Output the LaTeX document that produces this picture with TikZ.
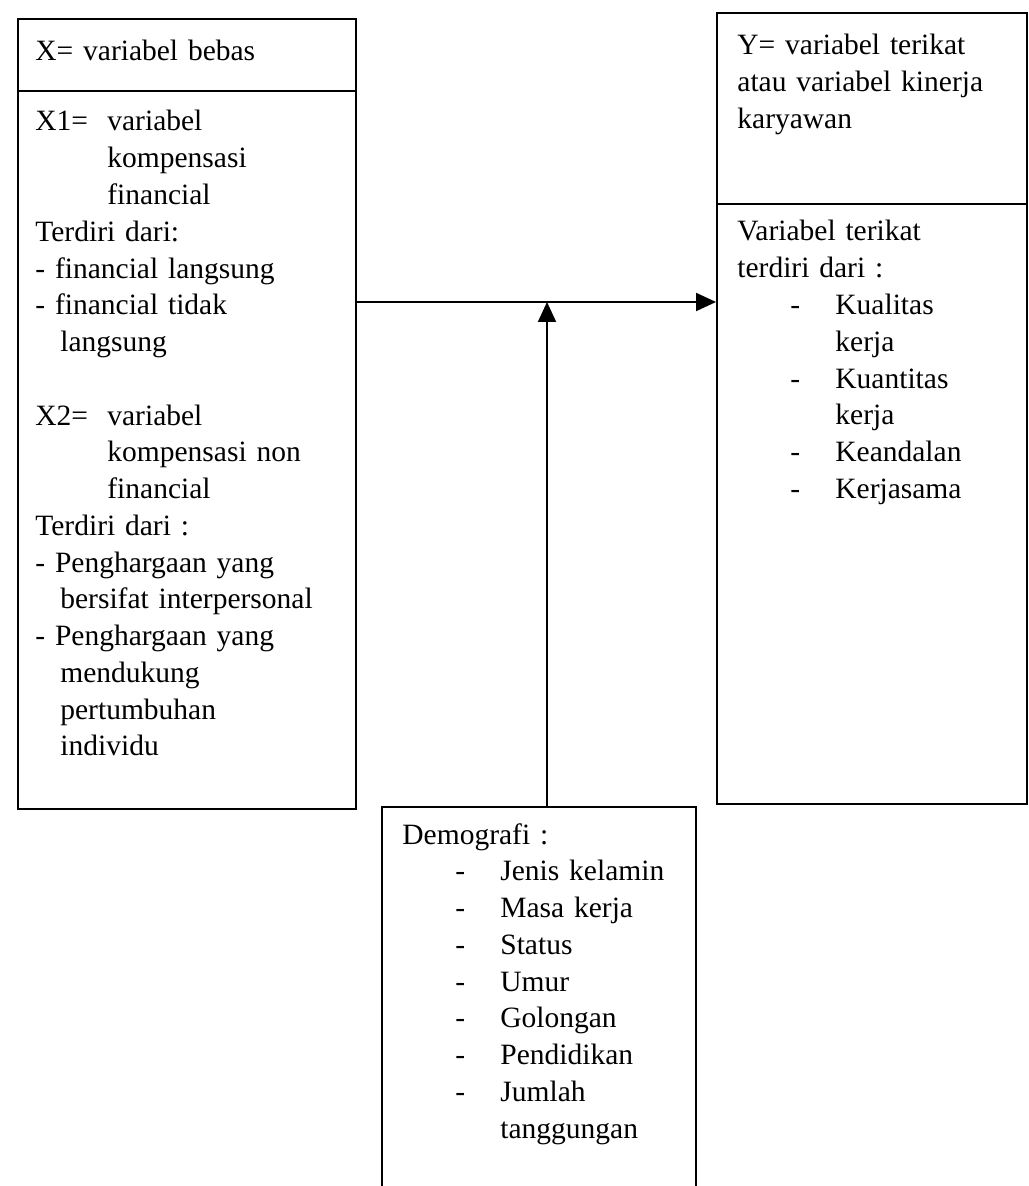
\documentclass[tikz,border=0pt]{standalone}
\usepackage{fontspec}
\setmainfont{Liberation Serif}
\usetikzlibrary{arrows.meta,positioning}
\newcommand{\dashrow}[1]{\hspace*{26.5pt}\makebox[22.5pt][l]{-}#1}

\begin{document}
\begin{tikzpicture}[x=0.5pt,y=-0.5pt]
  \tikzset{box/.style = {shape=rectangle,draw,line width=1.1pt,anchor=north west,inner sep=0pt}}
  \tikzset{txt/.style = {anchor=base west,align=left,inner sep=0pt,text width=165pt,font=\fontsize{14.75}{18.38}\selectfont}}
  \tikzset{%
  tipA/.tip={Triangle[length=10pt,width=9pt]},
}
  \tikzset{edge/.style = {-tipA,line width=1pt}}

	\clip (0,0) rectangle (1028,1186);

	\node[box,minimum width=169pt,minimum height=36pt] (XH) at (17,18) {};
	\node[box,minimum width=169pt,minimum height=359pt] (XB) at (17,90) {};
	
	\node[box,minimum width=155pt,minimum height=95.5pt] (YH) at (716,12) {};
	\node[box,minimum width=155pt,minimum height=300pt] (YB) at (716,203) {};
	
	\node[box,minimum width=157pt,minimum height=250pt] (DM) at (381,806) {};

	\node[txt] (XHt) at (35,61) {X= variabel bebas};
	\node[txt] (XBt) at (35,131) {\makebox[36pt][l]{X1=}variabel\\
	\hspace*{36pt}kompensasi\\
	\hspace*{36pt}financial\\
	Terdiri dari:\\
	- financial langsung\\
	- financial tidak\\
	\hspace*{12.5pt}langsung\\[18.38pt]
	\makebox[36pt][l]{X2=}variabel\\
	\hspace*{36pt}kompensasi non\\
	\hspace*{36pt}financial\\
	Terdiri dari :\\
	- Penghargaan yang\\
	\hspace*{12.5pt}bersifat interpersonal\\
	- Penghargaan yang\\
	\hspace*{12.5pt}mendukung\\
	\hspace*{12.5pt}pertumbuhan\\
	\hspace*{12.5pt}individu};

	\node[txt] (YHt) at (737,55) {Y= variabel terikat\\
	atau variabel kinerja\\
	karyawan};
	\node[txt] (YBt) at (737,241) {Variabel terikat\\
	terdiri dari :\\
	\dashrow{Kualitas}\\
	\hspace*{49pt}kerja\\
	\dashrow{Kuantitas}\\
	\hspace*{49pt}kerja\\
	\dashrow{Keandalan}\\
	\dashrow{Kerjasama}};

	\node[txt] (DMt) at (402,844) {Demografi :\\
	\dashrow{Jenis kelamin}\\
	\dashrow{Masa kerja}\\
	\dashrow{Status}\\
	\dashrow{Umur}\\
	\dashrow{Golongan}\\
	\dashrow{Pendidikan}\\
	\dashrow{Jumlah}\\
	\hspace*{49pt}tanggungan};

	\coordinate (J) at (547,302);
	
    \path[edge] (XB.east |- J) edge (YB.west |- J);
    \path[edge] (DM.north -| J) edge (J);

\end{tikzpicture}
\end{document}
